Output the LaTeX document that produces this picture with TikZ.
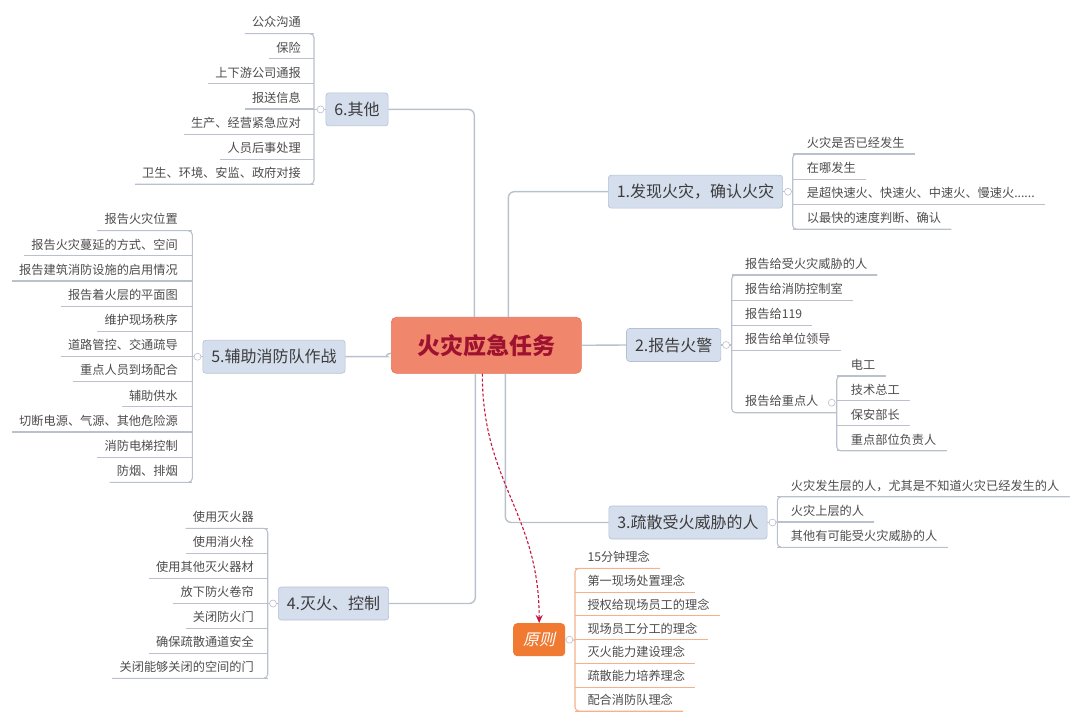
\documentclass[tikz,border=0pt]{standalone}
\usepackage{fontspec}
\setmainfont{Noto Sans CJK SC}
\newfontfamily\slantcjk{Noto Sans CJK SC}[FakeSlant=0.22]
\usetikzlibrary{arrows.meta}
\newcommand\speeddots{......}
\definecolor{inkgray}{HTML}{4D4D4D}
\definecolor{topicink}{HTML}{3C3C3C}
\definecolor{topicfill}{HTML}{D5DEEC}
\definecolor{topicedge}{HTML}{B3C0D6}
\definecolor{rootfill}{HTML}{F0866C}
\definecolor{rootedge}{HTML}{E2735A}
\definecolor{rootink}{HTML}{9E1230}
\definecolor{trunkline}{HTML}{B9C1CD}
\definecolor{twigline}{HTML}{BAC1CC}
\definecolor{rulefill}{HTML}{F07A32}
\definecolor{ruleline}{HTML}{F3B28C}
\definecolor{flowred}{HTML}{C8163E}
\tikzset{
  root/.style      = {draw=rootedge, fill=rootfill, rounded corners=5pt, line width=0.6pt,
                      text=rootink, font=\fontsize{23}{28}\selectfont\bfseries,
                      minimum width=190pt, minimum height=56pt},
  topic/.style     = {draw=topicedge, fill=topicfill, rounded corners=3pt, line width=0.6pt,
                      text=topicink, font=\fontsize{16}{19}\selectfont,
                      inner xsep=8.5pt, minimum height=33pt},
  principle/.style = {fill=rulefill, rounded corners=4pt, text=white,
                      font=\slantcjk\fontsize{16}{19}\selectfont,
                      minimum width=52pt, minimum height=33pt},
  leaf/.style      = {text=inkgray, font=\fontsize{12.2}{14}\selectfont, inner xsep=0pt,
                      inner ysep=0pt, text height=10.5pt, text depth=6.5pt},
  leafL/.style     = {leaf, anchor=south east},
  leafR/.style     = {leaf, anchor=south west},
  trunk/.style     = {draw=trunkline, line width=1.4pt, rounded corners=6pt},
  twig/.style      = {draw=twigline, line width=1.1pt, rounded corners=4pt},
  twigP/.style     = {twig, draw=ruleline},
  knob/.style      = {draw=twigline, fill=white, line width=0.6pt},
  flow/.style      = {draw=flowred, line width=1.1pt, dash pattern=on 3pt off 2pt,
                      -{Stealth[length=8pt,width=7pt]}},
}
\begin{document}
\begin{tikzpicture}[x=1pt, y=-1pt]
  \useasboundingbox (0,0) rectangle (1080,722);
  \fill[white] (0,0) rectangle (1080,722);

  % centre and main topics
  \node[root]  (task) at (486.3,345.3) {火灾应急任务};
  \node[topic] (t1) at (695.5,191.7) {1.发现火灾，确认火灾};
  \node[topic] (t2) at (673.7,345)   {2.报告火警};
  \node[topic] (t3) at (688,522.5)   {3.疏散受火威胁的人};
  \node[topic] (t4) at (333.5,603.5) {4.灭火、控制};
  \node[topic] (t5) at (274,356.7)   {5.辅助消防队作战};
  \node[topic] (t6) at (357,109.4)   {6.其他};
  \node[principle] (rule) at (539.2,639.7) {原则};

  \draw[trunk] (t6.east) -| ([xshift=-12]task.north);
  \draw[trunk] ([xshift=22]task.north) |- (t1.west);
  \draw[trunk] (task.east) -- (t2.west);
  \draw[trunk] ([xshift=19]task.south) |- (t3.west);
  \draw[trunk] ([xshift=-11]task.south) |- (t4.east);
  \draw[trunk] (t5.east) -- ++(36,0) to[out=0,in=180] ([yshift=-8]task.west);
  \draw[flow] ([xshift=-4]task.south) .. controls +(0,110) and +(0,-110) .. (rule.north);

  % spines
  \coordinate (s6) at (314,109.4);
  \coordinate (s5) at (192.3,356.7);
  \coordinate (s4) at (267.7,603.5);
  \coordinate (s1) at (792.7,191.7);
  \coordinate (s2) at (731.7,345);
  \coordinate (s2b) at (836.7,412.7);
  \coordinate (s3) at (777.3,522);
  \coordinate (sp) at (575,640);

  % 6.其他
  \foreach \t [count=\i] in {公众沟通,保险,上下游公司通报,报送信息,生产、经营紧急应对,人员后事处理,卫生、环境、安监、政府对接}{
    \node[leafL] (a\i) at (301,{33.7+(\i-1)*25.1}) {\t};
    \draw[twig] ([xshift=-7]a\i.south west) -- (s6 |- a\i.south);
  }
  \draw[twig] ([xshift=-7]a1.south west) -- (s6 |- a1.south) -- (s6 |- a7.south) -- ([xshift=-7]a7.south west);
  \draw[twig] (t6.west) -- (s6);
  \draw[knob] ([xshift=-5]t6.west) circle (3.5pt);

  % 5.辅助消防队作战
  \foreach \t [count=\i] in {报告火灾位置,报告火灾蔓延的方式、空间,报告建筑消防设施的启用情况,报告着火层的平面图,维护现场秩序,道路管控、交通疏导,重点人员到场配合,辅助供水,切断电源、气源、其他危险源,消防电梯控制,防烟、排烟}{
    \node[leafL] (f\i) at (178,{230.7+(\i-1)*25.16}) {\t};
    \draw[twig] ([xshift=-7]f\i.south west) -- (s5 |- f\i.south);
  }
  \draw[twig] ([xshift=-7]f1.south west) -- (s5 |- f1.south) -- (s5 |- f11.south) -- ([xshift=-7]f11.south west);
  \draw[twig] (t5.west) -- (s5);
  \draw[knob] ([xshift=-5]t5.west) circle (3.5pt);

  % 4.灭火、控制
  \foreach \t [count=\i] in {使用灭火器,使用消火栓,使用其他灭火器材,放下防火卷帘,关闭防火门,确保疏散通道安全,关闭能够关闭的空间的门}{
    \node[leafL] (e\i) at (254,{528.3+(\i-1)*25}) {\t};
    \draw[twig] ([xshift=-7]e\i.south west) -- (s4 |- e\i.south);
  }
  \draw[twig] ([xshift=-7]e1.south west) -- (s4 |- e1.south) -- (s4 |- e7.south) -- ([xshift=-7]e7.south west);
  \draw[twig] (t4.west) -- (s4);
  \draw[knob] ([xshift=-5]t4.west) circle (3.5pt);

  % 1.发现火灾
  \foreach \t [count=\i] in {火灾是否已经发生,在哪发生,是超快速火、快速火、中速火、慢速火\speeddots,以最快的速度判断、确认}{
    \node[leafR] (d\i) at (806.7,{154+(\i-1)*25.1}) {\t};
    \draw[twig] (s1 |- d\i.south) -- ([xshift=10]d\i.south east);
  }
  \draw[twig] ([xshift=10]d1.south east) -- (s1 |- d1.south) -- (s1 |- d4.south) -- ([xshift=10]d4.south east);
  \draw[twig] (t1.east) -- (s1);
  \draw[knob] ([xshift=5]t1.east) circle (3.5pt);

  % 2.报告火警
  \foreach \t [count=\i] in {报告给受火灾威胁的人,报告给消防控制室,报告给119,报告给单位领导}{
    \node[leafR] (b\i) at (745,{275+(\i-1)*25.2}) {\t};
    \draw[twig] (s2 |- b\i.south) -- ([xshift=10]b\i.south east);
  }
  \node[leafR] (b5) at (745,412.7) {报告给重点人};
  \draw[twig] ([xshift=10]b1.south east) -- (s2 |- b1.south) -- (s2 |- b5.south) -- (s2b);
  \draw[twig] (t2.east) -- (s2);
  \draw[knob] ([xshift=5]t2.east) circle (3.5pt);
  \foreach \t [count=\i] in {电工,技术总工,保安部长,重点部位负责人}{
    \node[leafR] (k\i) at (850.7,{376+(\i-1)*24.9}) {\t};
    \draw[twig] (s2b |- k\i.south) -- ([xshift=10]k\i.south east);
  }
  \draw[twig] ([xshift=10]k1.south east) -- (s2b |- k1.south) -- (s2b |- k4.south) -- ([xshift=10]k4.south east);
  \draw[knob] ([shift={(-5,-10)}]s2b) circle (3.5pt);

  % 3.疏散受火威胁的人
  \foreach \t [count=\i] in {火灾发生层的人，尤其是不知道火灾已经发生的人,火灾上层的人,其他有可能受火灾威胁的人}{
    \node[leafR] (c\i) at (790.7,{496.7+(\i-1)*25.3}) {\t};
    \draw[twig] (s3 |- c\i.south) -- ([xshift=10]c\i.south east);
  }
  \draw[twig] ([xshift=10]c1.south east) -- (s3 |- c1.south) -- (s3 |- c3.south) -- ([xshift=10]c3.south east);
  \draw[twig] (t3.east) -- (s3);
  \draw[knob] ([xshift=5]t3.east) circle (3.5pt);

  % 原则
  \foreach \t [count=\i] in {15分钟理念,第一现场处置理念,授权给现场员工的理念,现场员工分工的理念,灭火能力建设理念,疏散能力培养理念,配合消防队理念}{
    \node[leafR] (r\i) at (587.3,{568.3+(\i-1)*23.8}) {\t};
    \draw[twigP] (sp |- r\i.south) -- ([xshift=10]r\i.south east);
  }
  \draw[twigP] ([xshift=10]r1.south east) -- (sp |- r1.south) -- (sp |- r7.south) -- ([xshift=10]r7.south east);
  \draw[twigP] (rule.east) -- (sp);
  \draw[knob] ([xshift=4]rule.east) circle (3.5pt);
\end{tikzpicture}
\end{document}
